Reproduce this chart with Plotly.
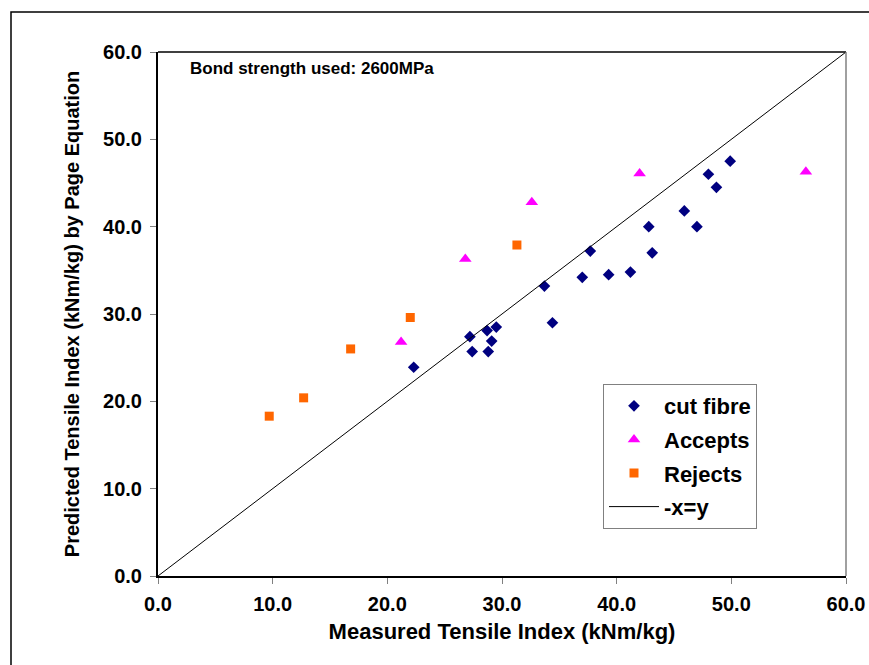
import plotly.graph_objects as go

# ---- data ----
cut_x = [22.3, 27.2, 27.4, 28.7, 28.8, 29.1, 29.5, 33.7, 34.4, 37.0, 37.7, 39.3, 41.2, 42.8, 43.1, 45.9, 47.0, 48.0, 48.7, 49.9]
cut_y = [23.9, 27.4, 25.7, 28.1, 25.7, 26.9, 28.5, 33.2, 29.0, 34.2, 37.2, 34.5, 34.8, 40.0, 37.0, 41.8, 40.0, 46.0, 44.5, 47.5]

acc_x = [21.2, 26.8, 32.6, 42.0, 56.5]
acc_y = [26.8, 36.3, 42.8, 46.1, 46.3]

rej_x = [9.7, 12.7, 16.8, 22.0, 31.3]
rej_y = [18.3, 20.4, 26.0, 29.6, 37.9]

line_x = [0.0, 60.0]
line_y = [0.0, 60.0]

tick_vals = [0, 10, 20, 30, 40, 50, 60]
tick_text = ["0.0", "10.0", "20.0", "30.0", "40.0", "50.0", "60.0"]

FONT = "Liberation Sans, Arial, Helvetica, sans-serif"

fig = go.Figure()
fig.add_trace(go.Scatter(x=cut_x, y=cut_y, mode="markers", name="<b>cut fibre</b>", legendgroup="a",
                         marker=dict(symbol="diamond", size=9, color="#000080")))
fig.add_trace(go.Scatter(x=acc_x, y=acc_y, mode="markers", name="<b>Accepts</b>", legendgroup="b",
                         marker=dict(symbol="triangle-up", size=11, color="#FF00FF")))
fig.add_trace(go.Scatter(x=rej_x, y=rej_y, mode="markers", name="<b>Rejects</b>", legendgroup="c",
                         marker=dict(symbol="square", size=9, color="#FF6600")))
fig.add_trace(go.Scatter(x=line_x, y=line_y, mode="lines", name="<b>-x=y</b>", legendgroup="d",
                         line=dict(color="black", width=1)))

axis_common = dict(
    range=[0, 60], tickvals=tick_vals, ticktext=tick_text,
    showgrid=False, zeroline=False, automargin=False,
    showline=True, linecolor="black", linewidth=2,
    ticks="outside", ticklen=6, tickcolor="#808080", tickwidth=1,
    tickfont=dict(family=FONT, size=20, color="black", weight="bold"),
)

fig.update_layout(
    width=869, height=665,
    margin=dict(l=158, r=23, t=52, b=89, autoexpand=False),
    paper_bgcolor="white", plot_bgcolor="white",
    xaxis=dict(**axis_common, ticklabelstandoff=3,
               title=dict(text="Measured Tensile Index (kNm/kg)", standoff=10,
                          font=dict(family=FONT, size=22, color="black", weight="bold"))),
    yaxis=dict(**axis_common, ticklabelstandoff=4,
               title=dict(text="Predicted Tensile Index (kNm/kg) by Page Equation", standoff=18,
                          font=dict(family=FONT, size=20, color="black", weight="bold"))),
    legend=dict(x=(603 - 158) / 688, y=(576 - 384) / 524, xanchor="left", yanchor="top",
                bgcolor="white", bordercolor="#808080", borderwidth=1,
                traceorder="grouped", tracegroupgap=2, itemwidth=50,
                font=dict(family=FONT, size=22, color="black")),
    showlegend=True,
    annotations=[dict(text="Bond strength used: 2600MPa", xref="paper", yref="paper",
                      x=(188 - 158) / 688, y=(576 - 68) / 524, xanchor="left", yanchor="middle",
                      showarrow=False,
                      font=dict(family=FONT, size=17, color="black", weight="bold"))],
    shapes=[
        # top border of plot area
        dict(type="line", xref="paper", yref="paper", x0=0, x1=1, y0=1, y1=1,
             line=dict(color="black", width=1.5)),
        # right border of plot area
        dict(type="line", xref="paper", yref="paper", x0=1, x1=1, y0=0, y1=1,
             line=dict(color="#808080", width=1.5)),
        # outer chart frame
        dict(type="rect", xref="paper", yref="paper",
             x0=(11 - 158) / 688, x1=(900 - 158) / 688,
             y0=(576 - 700) / 524, y1=(576 - 12) / 524,
             line=dict(color="black", width=1.5), fillcolor="rgba(0,0,0,0)"),
    ],
)

fig.write_html("out.html")
